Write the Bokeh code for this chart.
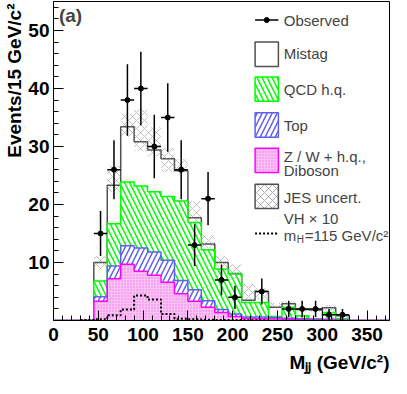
import numpy as np
from bokeh.plotting import figure
from bokeh.models import FixedTicker, Label, BoxAnnotation, Range1d, Title
from bokeh.embed import file_html
from bokeh.resources import INLINE

# ---------------- data (15 GeV/c^2 bins from 0 to 375) ----------------
bin_edges = list(range(0, 376, 15))

observed = [0, 0, 0, 15, 26, 38, 40, 30, 35, 26, 13, 21, 7, 4, 0, 5, 0, 2, 2, 2, 1, 1, 0, 0, 0]

zw_hq = [0, 0, 0, 3.3, 7.2, 9.7, 8.5, 7.8, 6.6, 4.6, 3.3, 2.3, 1.4, 0.7, 0.35, 0.3, 0.25,
         0.2, 0.15, 0.1, 0.1, 0.05, 0, 0, 0]
top = [0, 0, 0, 0.8, 2.2, 3.2, 4.0, 4.0, 3.8, 2.3, 2.0, 1.1, 0.5, 0.4, 0.25, 0.3, 0.25,
       0.2, 0.15, 0.1, 0.1, 0.05, 0, 0, 0]
qcd_hq = [0, 0, 0, 2.7, 7.3, 11.0, 10.7, 10.4, 11.0, 13.7, 11.6, 8.8, 7.0, 6.9, 2.5, 2.5,
          0.2, 1.9, 0.5, 0.1, 1.2, 0.2, 0, 0, 0]
mistag = [0, 0, 0, 3.2, 6.6, 9.5, 7.6, 7.2, 6.5, 5.2, 0.8, 1.0, 1.1, 0.1, 0.4, 1.9, 1.6,
          0.6, 1.1, 1.5, 0.8, 0.5, 0, 0, 0]

jes_low = [0, 0, 0, 8.9, 22.2, 31.7, 29.2, 28.3, 25.6, 25.3, 16.7, 12.5, 9.2, 7.2, 3.3, 3.6,
           2.1, 2.3, 1.5, 1.5, 1.5, 0.5, 0, 0, 0]
jes_high = [0, 0, 0, 11.1, 26.7, 35.6, 36.4, 33.3, 29.7, 27.8, 20.6, 14.7, 11.1, 9.7, 6.3, 5.6,
            3.0, 3.3, 2.1, 2.0, 2.7, 1.0, 0, 0, 0]

vh_x10 = [0, 0, 0.1, 0.2, 0.9, 1.9, 4.3, 3.6, 1.1, 0.3, 0.2, 0.15, 0.1, 0.1, 0.05, 0.05,
          0, 0, 0, 0, 0, 0, 0, 0, 0]

x_ticks = [0, 50, 100, 150, 200, 250, 300, 350]
y_ticks = [10, 20, 30, 40, 50]

# ---------------- helpers ----------------
edges = np.array(bin_edges, dtype=float)
lefts, rights = edges[:-1], edges[1:]
centers = 0.5 * (lefts + rights)


def step_xy(vals, lo=0, hi=None):
    v = np.asarray(vals, dtype=float)
    e = edges
    if hi is None:
        hi = len(v)
    v = v[lo:hi]
    e = e[lo:hi + 1]
    xs = np.concatenate([[e[0]], np.repeat(e, 2)[1:-1], [e[-1]]])
    ys = np.concatenate([[0.0], np.repeat(v, 2), [0.0]])
    return xs, ys


c_zw = np.array(zw_hq)
c_top = c_zw + np.array(top)
c_qcd = c_top + np.array(qcd_hq)
c_tot = c_qcd + np.array(mistag)

FONT = "Liberation Sans"
GREEN = "#00ff00"
BLUE = "#6060f0"
MAGENTA = "#ff00ff"
PINK = "#f9c4f2"
GRAY = "#505050"
HS = 10
AX_FS = "19px"

p = figure(width=391, height=378, output_backend="svg", toolbar_location=None,
           x_range=Range1d(0, 375), y_range=Range1d(0, 55),
           min_border_left=10, min_border_right=2, min_border_top=1, min_border_bottom=4)
p.background_fill_color = "white"
p.border_fill_color = "white"
p.outline_line_color = "black"
p.outline_line_width = 1
p.xgrid.visible = False
p.ygrid.visible = False

# stacked histograms
xs, ys = step_xy(c_tot)
p.patch(xs, ys, fill_color="white", line_color=None)
p.line(xs, ys, line_color=GRAY, line_width=1.5)

xs, ys = step_xy(c_qcd)
p.patch(xs, ys, fill_color="white", line_color=None, hatch_pattern="\\",
        hatch_color=GREEN, hatch_scale=HS, hatch_weight=1.5)
p.line(xs, ys, line_color=GREEN, line_width=1.5)

xs, ys = step_xy(c_top)
p.patch(xs, ys, fill_color="white", line_color=None, hatch_pattern="/",
        hatch_color=BLUE, hatch_scale=HS, hatch_weight=1.5)
p.line(xs, ys, line_color=BLUE, line_width=1.5)

xs, ys = step_xy(c_zw)
p.patch(xs, ys, fill_color=PINK, line_color=None, hatch_pattern=".",
        hatch_color=MAGENTA, hatch_scale=3, hatch_weight=1, hatch_alpha=0.45)
p.line(xs, ys, line_color=MAGENTA, line_width=1.5)

# JES uncertainty band
jl = np.array(jes_low)
jh = np.array(jes_high)
m = jh > 0
p.quad(left=lefts[m], right=rights[m], bottom=jl[m], top=jh[m], fill_alpha=0,
       line_color=None, hatch_pattern="x", hatch_color="#909090", hatch_scale=8,
       hatch_weight=0.8, hatch_alpha=0.7)

# VH x10 signal (dotted step)
sig = np.array(vh_x10)
nz = np.nonzero(sig)[0]
xs, ys = step_xy(sig, nz[0], nz[-1] + 1)
p.line(xs[1:-1], ys[1:-1], line_color="black", line_width=2, line_dash="2 2")

# observed data
obs = np.array(observed, dtype=float)
mo = obs > 0
err = np.sqrt(obs[mo])
p.segment(x0=centers[mo], y0=obs[mo] - err, x1=centers[mo], y1=obs[mo] + err,
          line_color="black", line_width=1.5)
p.segment(x0=lefts[mo], y0=obs[mo], x1=rights[mo], y1=obs[mo],
          line_color="black", line_width=1.5)
p.scatter(centers[mo], obs[mo], size=5, color="black")

# axes
for ax in (p.xaxis[0], p.yaxis[0]):
    ax.major_tick_in = 10
    ax.major_tick_out = 0
    ax.minor_tick_in = 5
    ax.minor_tick_out = 0
    ax.axis_line_color = "black"
    ax.major_tick_line_color = "black"
    ax.minor_tick_line_color = "black"
    ax.major_label_text_font = FONT
    ax.major_label_text_font_style = "bold"
    ax.major_label_text_font_size = AX_FS
    ax.major_label_text_color = "black"
p.xaxis.ticker = FixedTicker(ticks=x_ticks, minor_ticks=list(range(0, 376, 10)))
p.yaxis.ticker = FixedTicker(ticks=y_ticks, minor_ticks=list(range(0, 56, 2)))
p.xaxis.major_label_standoff = 7
p.yaxis.major_label_standoff = 4

# axis titles (right-aligned like ROOT)
p.add_layout(Title(text="Events/15 GeV/c²", align="right", text_font=FONT,
                   text_font_style="bold", text_font_size=AX_FS, text_color="black",
                   standoff=2, offset=2),
             "left")
p.add_layout(Title(text="Mⱼⱼ (GeV/c²)", align="right", text_font=FONT,
                   text_font_style="bold", text_font_size=AX_FS, text_color="black",
                   standoff=12, offset=0),
             "below")

p.add_layout(Label(x=6, y=52.6, text="(a)", text_baseline="middle", text_font=FONT,
                   text_font_style="bold", text_font_size="19px"))

# ---------------- legend ----------------
LX0, LX1, TX = 225, 251, 257


def leg_text(y, txt, size="15px", dx=0):
    p.add_layout(Label(x=TX, y=y, text=txt, text_baseline="middle", text_font=FONT,
                       text_font_size=size, x_offset=dx))


p.segment(x0=[LX0], y0=[51.8], x1=[LX1], y1=[51.8], line_color="black", line_width=1.5)
p.scatter([0.5 * (LX0 + LX1)], [51.8], size=5, color="black")
leg_text(51.8, "Observed")

p.add_layout(BoxAnnotation(left=LX0, right=LX1, bottom=43.8, top=48.0, fill_color="white",
                           fill_alpha=1, line_color=GRAY, line_alpha=1, line_width=1.5))
leg_text(46.0, "Mistag")

p.add_layout(BoxAnnotation(left=LX0, right=LX1, bottom=37.8, top=42.0, fill_color="white",
                           fill_alpha=1, line_color=GREEN, line_alpha=1, line_width=1.5,
                           hatch_pattern="\\", hatch_color=GREEN, hatch_scale=HS,
                           hatch_weight=1.5))
leg_text(39.9, "QCD h.q.")

p.add_layout(BoxAnnotation(left=LX0, right=LX1, bottom=31.6, top=35.8, fill_color="white",
                           fill_alpha=1, line_color=BLUE, line_alpha=1, line_width=1.5,
                           hatch_pattern="/", hatch_color=BLUE, hatch_scale=HS,
                           hatch_weight=1.5))
leg_text(33.7, "Top")

p.add_layout(BoxAnnotation(left=LX0, right=LX1, bottom=25.5, top=29.7, fill_color=PINK,
                           fill_alpha=1, line_color=MAGENTA, line_alpha=1, line_width=1.5,
                           hatch_pattern=".", hatch_color=MAGENTA, hatch_scale=3,
                           hatch_weight=1, hatch_alpha=0.45))
leg_text(28.2, "Z / W + h.q.,")
leg_text(25.8, "Diboson")

p.add_layout(BoxAnnotation(left=LX0, right=LX1, bottom=19.3, top=23.5, fill_color="white",
                           fill_alpha=1, line_color=GRAY, line_alpha=1, line_width=1.5,
                           hatch_pattern="x", hatch_color="#909090", hatch_scale=8,
                           hatch_weight=0.8))
leg_text(21.2, "JES uncert.")

leg_text(17.6, "VH × 10")
p.segment(x0=[LX0], y0=[15.0], x1=[LX1], y1=[15.0], line_color="black", line_width=2,
          line_dash="2 2")
leg_text(14.6, "m")
leg_text(13.9, "H", size="10px", dx=13)
leg_text(14.6, "=115 GeV/c²", dx=21)

open("out.html", "w").write(file_html(p, INLINE))
